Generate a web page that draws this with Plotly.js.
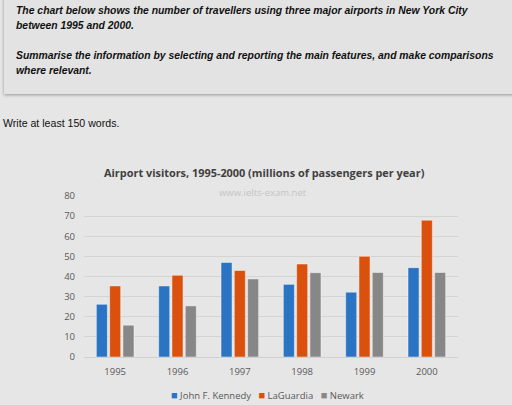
<!DOCTYPE html>
<html>
<head>
<meta charset="utf-8">
<script src="https://cdn.plot.ly/plotly-3.0.1.min.js"></script>
<style>
html,body{margin:0;padding:0;width:512px;height:405px;background:#e6e6e6;overflow:hidden;}
#box{position:absolute;left:4px;top:-10px;width:530px;height:104px;background:#e3e3e3;box-shadow:0 1px 3px rgba(0,0,0,0.35);}
.q{position:absolute;left:16px;font-family:"Liberation Sans",Arial,sans-serif;font-weight:bold;font-style:italic;font-size:10.4px;color:#111;line-height:15px;margin:0;}
#w{position:absolute;left:3px;top:117px;font-family:"Liberation Sans",Arial,sans-serif;font-size:10.6px;color:#111;}
#chart{position:absolute;left:0;top:0;width:512px;height:405px;}
</style>
</head>
<body>
<div id="chart"></div>
<div id="box"></div>
<p class="q" style="top:3px;">The chart below shows the number of travellers using three major airports in New York City<br>between 1995 and 2000.</p>
<p class="q" style="top:48px;">Summarise the information by selecting and reporting the main features, and make comparisons<br>where relevant.</p>
<div id="w">Write at least 150 words.</div>
<script>
var years = ['1995','1996','1997','1998','1999','2000'];
var jfk = [26.2, 35.3, 47.0, 36.1, 32.2, 44.4];
var laguardia = [35.3, 40.6, 43.0, 46.2, 50.0, 68.0];
var newark = [15.8, 25.4, 38.8, 41.9, 42.0, 42.0];
var names = ['John F. Kennedy', 'LaGuardia', 'Newark'];
var colors = ['#2b74c4', '#d9510c', '#878787'];
var series = [jfk, laguardia, newark];

var traces = series.map(function(s, i){
  return {type:'bar', x: years, y: s, name: names[i],
    marker:{color: colors[i], line:{color:'rgba(255,255,255,0.45)', width:1}},
    hoverinfo:'none'};
});

var legendText = names.map(function(n, i){
  return '<span style="color:' + colors[i] + ';font-size:11px">■</span> ' + n;
}).join('&nbsp;&nbsp;&nbsp;');

var layout = {
  width:512, height:405,
  paper_bgcolor:'rgba(0,0,0,0)', plot_bgcolor:'rgba(0,0,0,0)',
  margin:{l:84, r:54, t:196, b:48, pad:0},
  barmode:'group', bargap:0.36, bargroupgap:0.17,
  showlegend:false,
  title:{text:'<b>Airport visitors, 1995-2000 (millions of passengers per year)</b>',
    font:{family:'Open Sans', size:10.9, color:'#404040'},
    xref:'container', yref:'container', x:0.516, y:1-173/405, xanchor:'center', yanchor:'middle'},
  xaxis:{type:'category', showgrid:false, showline:true, linecolor:'#d0d0d0', linewidth:1,
    ticks:'', tickfont:{family:'Open Sans', size:9.5, color:'#595959'}, ticklabelstandoff:6},
  yaxis:{range:[0,80], dtick:10, showgrid:true, gridcolor:'#d4d4d4', gridwidth:1,
    zeroline:false, showline:false, ticks:'',
    tickfont:{family:'Open Sans', size:9.5, color:'#595959'}, ticklabelstandoff:8},
  annotations:[
    {text:'www.ielts-exam.net', xref:'paper', yref:'paper', x:(263-84)/374, y:(357.3-192)/161.6,
      showarrow:false, font:{family:'Open Sans', size:9.5, color:'#c4c4c4'}, xanchor:'center', yanchor:'middle'},
    {text:legendText, xref:'paper', yref:'paper', x:(267-84)/374, y:-(395-357.3)/161.6,
      showarrow:false, font:{family:'Open Sans', size:9.5, color:'#595959'}, xanchor:'center', yanchor:'middle'}
  ]
};
Plotly.newPlot('chart', traces, layout, {displayModeBar:false, staticPlot:true});
</script>
</body>
</html>
